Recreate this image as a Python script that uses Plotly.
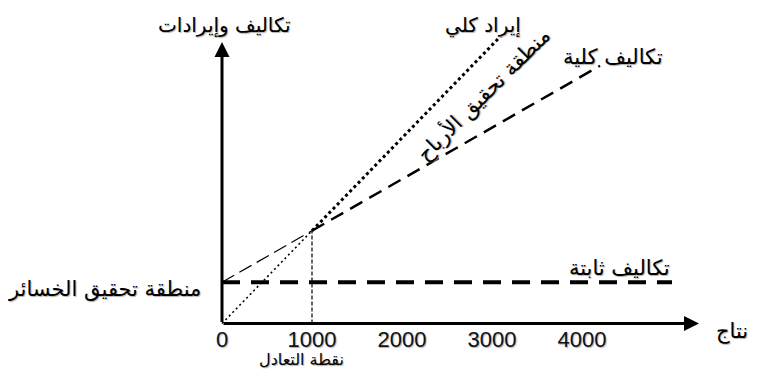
import plotly.graph_objects as go

# ---- data ----
revenue_q = [0, 1000, 3100]
revenue = [0, 9000, 27900]
cost_q = [0, 1000, 4200]
total_cost = [4000, 9000, 25000]
fixed_q = [0, 5000]
fixed_cost = [4000, 4000]
breakeven_q = [1000, 1000]
breakeven_v = [0, 9000]
tick_values = [0, 1000, 2000, 3000, 4000]
tick_labels = ["0", "1000", "2000", "3000", "4000"]

AR = "DejaVu Sans"
SH = "1px 1px 1px #b0b0b0"
W, H = 749, 377          # page body has an 8px margin
OX, OY = 214, 315.5      # origin in figure pixels
SX, SY = 0.09, 97.0      # px per unit, money per px

fig = go.Figure()

# total revenue (dotted)
fig.add_trace(go.Scatter(x=revenue_q[:2], y=revenue[:2], mode="lines",
                         line=dict(color="black", width=1.6, dash="2px,3px")))
fig.add_trace(go.Scatter(x=revenue_q[1:], y=revenue[1:], mode="lines",
                         line=dict(color="black", width=3, dash="3px,3px")))
# total cost (dashed)
fig.add_trace(go.Scatter(x=cost_q[:2], y=total_cost[:2], mode="lines",
                         line=dict(color="black", width=1.2, dash="14px,6px")))
fig.add_trace(go.Scatter(x=cost_q[1:], y=total_cost[1:], mode="lines",
                         line=dict(color="black", width=2.5, dash="14px,8px")))
# fixed cost (heavy dashes)
fig.add_trace(go.Scatter(x=fixed_q, y=fixed_cost, mode="lines",
                         line=dict(color="black", width=4, dash="18px,11px")))
# break-even vertical
fig.add_trace(go.Scatter(x=breakeven_q, y=breakeven_v, mode="lines",
                         line=dict(color="black", width=1.2, dash="4px,2px")))


def f(size):
    return dict(family=AR, size=size, color="black", shadow=SH)


annotations = [
    # axes arrows
    dict(x=5300, y=0, ax=0, ay=0, xref="x", yref="y", axref="x", ayref="y",
         text="", showarrow=True, arrowhead=2, arrowsize=1.0, arrowwidth=3, arrowcolor="black"),
    dict(x=0, y=27300, ax=0, ay=0, xref="x", yref="y", axref="x", ayref="y",
         text="", showarrow=True, arrowhead=2, arrowsize=1.0, arrowwidth=3, arrowcolor="black"),
    # labels
    dict(x=30, y=30350, yanchor="top", text="تكاليف وإيرادات", font=f(20)),
    dict(x=2900, y=30350, yanchor="top", text="إيراد كلي", font=f(20)),
    dict(x=2900, y=22260, text="منطقة تحقيق الأرباح", textangle=-45, font=f(21)),
    dict(x=4344, y=25850, text="تكاليف كلية", font=f(21)),
    dict(x=4422, y=5384, text="تكاليف ثابتة", font=f(21)),
    dict(x=-1311, y=3300, text="منطقة تحقيق الخسائر", font=f(21)),
    dict(x=5700, y=-730, text="إنتاج", font=f(21)),
    dict(x=880, y=-3540, text="نقطة التعادل", font=f(16)),
]
for a in annotations:
    a.setdefault("showarrow", False)
    a.setdefault("xref", "x")
    a.setdefault("yref", "y")

fig.update_layout(
    width=W, height=H,
    margin=dict(l=0, r=0, t=0, b=0, autoexpand=False),
    paper_bgcolor="white", plot_bgcolor="white",
    showlegend=False,
    annotations=annotations,
    xaxis=dict(range=[-OX / SX, (W - OX) / SX], anchor="free", position=(H - OY) / H,
               showgrid=False, zeroline=False, showline=False, automargin=False,
               tickmode="array", tickvals=tick_values, ticktext=tick_labels,
               ticks="", tickfont=dict(family="Liberation Sans", size=22, color="#111", shadow=SH)),
    yaxis=dict(range=[-(H - OY) * SY, OY * SY], showgrid=False, zeroline=False, showline=False,
               showticklabels=False, ticks="", automargin=False),
)

fig.write_html("out.html")
